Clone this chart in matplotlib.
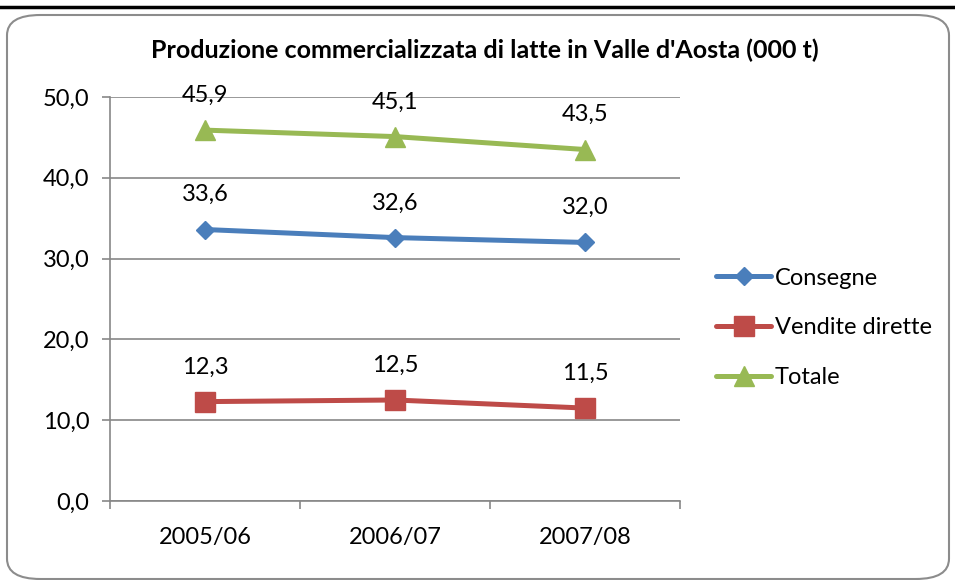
import matplotlib
matplotlib.use("Agg")
import matplotlib.pyplot as plt
from matplotlib.patches import FancyBboxPatch
from matplotlib.lines import Line2D

categories = ["2005/06", "2006/07", "2007/08"]
consegne = [33.6, 32.6, 32.0]
vendite = [12.3, 12.5, 11.5]
totale = [45.9, 45.1, 43.5]
series_names = ["Consegne", "Vendite dirette", "Totale"]
yticks = [0, 10, 20, 30, 40, 50]

plt.rcParams['font.family'] = ['Lato', 'DejaVu Sans']

FS = 17

fig = plt.figure(figsize=(9.55, 5.8), dpi=100)
fig.patch.set_facecolor('white')

# outer rounded frame
frame = FancyBboxPatch((7/955, 1/580), 942/955, 564/580,
                       boxstyle="round,pad=0,rounding_size=0.035",
                       transform=fig.transFigure, fill=False,
                       edgecolor='#8c8c8c', linewidth=1.5)
fig.patches.append(frame)
fig.add_artist(Line2D([0, 1], [1 - 7/580, 1 - 7/580], transform=fig.transFigure,
                      color='black', linewidth=2.5))

ax = fig.add_axes([110/955, 1 - 501/580, 570/955, 404/580])
x = list(range(len(categories)))

colors = ['#4A7EBB', '#BE4B48', '#98B954']
markers = ['D', 's', '^']
msizes = [9, 14, 14]
data = [consegne, vendite, totale]
for vals, c, m, ms, name in zip(data, colors, markers, msizes, series_names):
    ax.plot(x, vals, color=c, marker=m, markersize=ms, linewidth=3.6,
            label=name, solid_capstyle='round')
    for xi, v in zip(x, vals):
        ax.annotate(f"{v:.1f}".replace('.', ','), (xi, v), xytext=(0, 25),
                    textcoords='offset points', ha='center', va='center',
                    fontsize=FS, color='black')

ax.set_xlim(-0.5, len(categories) - 0.5)
ax.set_ylim(0, 50)
ax.set_yticks(yticks)
ax.set_yticklabels([f"{t:.1f}".replace('.', ',') for t in yticks], fontsize=FS)
ax.set_xticks(x)
ax.set_xticklabels(categories, fontsize=FS)
ax.tick_params(axis='x', length=0, pad=19)
ax.set_xticks([-0.5, 0.5, 1.5, 2.5], minor=True)
ax.tick_params(axis='x', which='minor', length=5.5, color='#878787', width=1.2)
ax.tick_params(axis='y', length=5.8, color='#878787', width=1.2, pad=9)
ax.yaxis.grid(True, color='#878787', linewidth=1.2)
ax.set_axisbelow(True)
for s in ['top', 'right']:
    ax.spines[s].set_visible(False)
for s in ['left', 'bottom']:
    ax.spines[s].set_color('#878787')
    ax.spines[s].set_linewidth(1.2)

fig.text(485/955, 1 - 50/580, "Produzione commercializzata di latte in Valle d'Aosta (000 t)",
         ha='center', va='center', fontsize=18, fontweight='bold')

leg = fig.legend(*ax.get_legend_handles_labels(), loc='center left',
                 bbox_to_anchor=(716/955, 1 - 328/580), frameon=False,
                 fontsize=FS, handlelength=2.35, handletextpad=0.15, labelspacing=1.22,
                 borderaxespad=0, borderpad=0)

fig.savefig("out.png", dpi=100)
